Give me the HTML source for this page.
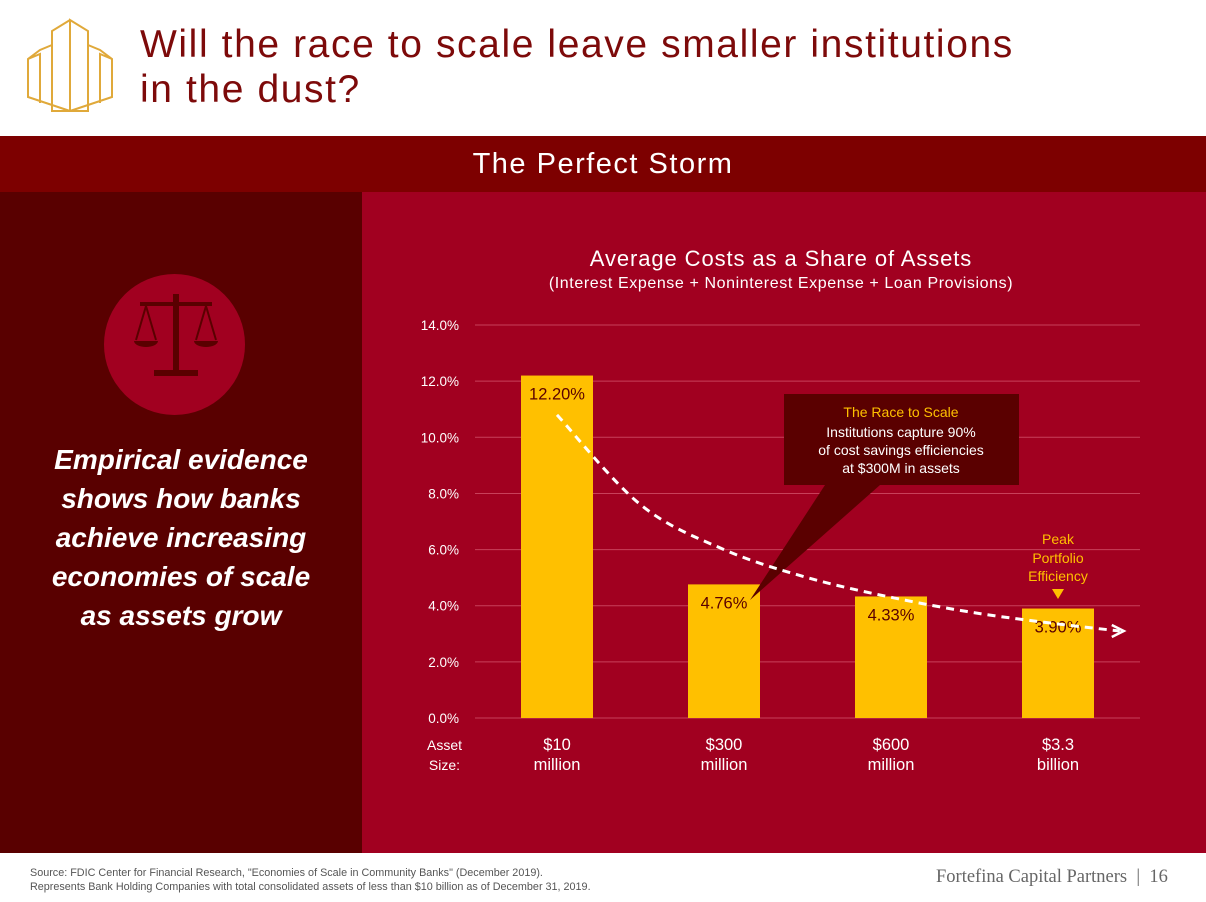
<!DOCTYPE html>
<html><head><meta charset="utf-8"><style>
body{margin:0;width:1206px;height:902px;position:relative;overflow:hidden;font-family:"Liberation Sans",sans-serif;background:#fff}
div{position:absolute}
</style></head><body>
<div style="left:0;top:0;width:1206px;height:136px;background:#fff">
<svg style="position:absolute;left:26px;top:17px" width="90" height="97" viewBox="0 0 90 97"><g fill="none" stroke="#e0a93a" stroke-width="2"><path d="M44 3 L62 14 L62 94 L44 94 Z M44 3 L26 14 L26 94 L44 94"/><path d="M26 28 L14 33 L2 42 L2 80 L44 94 M2 42 L14 37 L14 86"/><path d="M62 28 L74 33 L86 42 L86 80 L44 94 M86 42 L74 37 L74 86"/><path d="M44 3 V94"/></g></svg>
<div style="left:140px;top:22px;font-size:39px;letter-spacing:1.6px;line-height:45px;color:#7d0a0a">Will the race to scale leave smaller institutions<br>in the dust?</div>
</div>
<div style="left:0;top:136px;width:1206px;height:56px;background:#7d0000;color:#fff;font-size:29px;letter-spacing:1.5px;text-align:center;line-height:56px">The Perfect Storm</div>
<div style="left:0;top:192px;width:362px;height:661px;background:#590000">
<div style="left:104px;top:82px;width:141px;height:141px;border-radius:50%;background:#a10020">
<svg width="141" height="141" viewBox="0 0 141 141"><g fill="#5a0000"><rect x="69" y="20" width="6" height="78"/><rect x="36" y="28" width="72" height="4"/><rect x="50" y="96" width="44" height="6"/><path d="M30 67 h24 a12 6 0 0 1 -24 0Z M90 67 h24 a12 6 0 0 1 -24 0Z"/></g><g stroke="#5a0000" stroke-width="2" fill="none"><path d="M42 32 L32 66 M42 32 L52 66 M102 32 L92 66 M102 32 L112 66"/></g></svg></div>
<div style="left:0;top:248px;width:362px;text-align:center;color:#fff;font-style:italic;font-weight:bold;font-size:28px;line-height:39px">Empirical evidence<br>shows how banks<br>achieve increasing<br>economies of scale<br>as assets grow</div>
</div>
<div style="left:362px;top:192px;width:844px;height:661px;background:#a10020"></div>
<svg id="chart" style="position:absolute;left:0;top:0" width="1206" height="902"></svg>
<div style="left:30px;top:866px;font-size:10.8px;line-height:14px;color:#555">Source: FDIC Center for Financial Research, "Economies of Scale in Community Banks" (December 2019).<br>Represents Bank Holding Companies with total consolidated assets of less than $10 billion as of December 31, 2019.</div>
<div style="left:936px;top:867px;font-family:'Liberation Serif',serif;font-size:18.5px;color:#666">Fortefina Capital Partners &nbsp;|&nbsp; 16</div>
<script>
const categories=["$10|million","$300|million","$600|million","$3.3|billion"];
const values=[12.20,4.76,4.33,3.90];
const valueLabels=["12.20%","4.76%","4.33%","3.90%"];
const yTicks=[0,2,4,6,8,10,12,14];
const curvePos=[0,0.5,1,1.5,2,2.5,3,3.37];
const curveValues=[10.8,7.6,6.0,5.0,4.3,3.75,3.35,3.1];
const svg=document.getElementById('chart');const NS='http://www.w3.org/2000/svg';
function y(v){return 718-v*28.07}
function x(i){return 557+i*167}
function add(t,a,txt){const e=document.createElementNS(NS,t);for(const k in a)e.setAttribute(k,a[k]);if(txt!=null)e.textContent=txt;svg.appendChild(e);return e}
let e;
e=add('text',{x:781,y:266,'text-anchor':'middle',fill:'#fff','font-size':22,'letter-spacing':0.9},'Average Costs as a Share of Assets');


e=add('text',{x:781,y:288,'text-anchor':'middle',fill:'#fff','font-size':16,'letter-spacing':0.6},'(Interest Expense + Noninterest Expense + Loan Provisions)');


yTicks.forEach(t=>{
e=add('line',{x1:475,x2:1140,y1:y(t),y2:y(t),stroke:'#c8405a','stroke-width':1});


e=add('text',{x:459,y:y(t)+5,'text-anchor':'end',fill:'#fff','font-size':13.5},t.toFixed(1)+'%');


});
values.forEach((v,i)=>{
e=add('rect',{x:x(i)-36,y:y(v),width:72,height:y(0)-y(v),fill:'#ffc000'});


const c=categories[i].split('|');
e=add('text',{x:x(i),y:750,'text-anchor':'middle',fill:'#fff','font-size':16.5},c[0]);


e=add('text',{x:x(i),y:770,'text-anchor':'middle',fill:'#fff','font-size':16.5},c[1]);


});
e=add('text',{x:462,y:750,'text-anchor':'end',fill:'#fff','font-size':14},'Asset');


e=add('text',{x:460,y:770,'text-anchor':'end',fill:'#fff','font-size':14},'Size:');


values.forEach((v,i)=>{
e=add('text',{x:x(i),y:y(v)+24,'text-anchor':'middle',fill:'#5a0000','font-size':16.5},valueLabels[i]);


});
// callout
e=add('path',{d:'M784 394 H1019 V485 H880 L750 600 L825 485 H784 Z',fill:'#5a0000'});


[['The Race to Scale','#ffc000',417],['Institutions capture 90%','#fff',437],['of cost savings efficiencies','#fff',455],['at $300M in assets','#fff',473]].forEach(r=>{
e=add('text',{x:901,y:r[2],'text-anchor':'middle',fill:r[1],'font-size':14},r[0]);


});
// curve
let pts=curveValues.map((v,i)=>[x(curvePos[i]),y(v)]);
let d='M'+pts[0][0]+' '+pts[0][1];
for(let i=0;i<pts.length-1;i++){const p0=pts[Math.max(0,i-1)],p1=pts[i],p2=pts[i+1],p3=pts[Math.min(pts.length-1,i+2)];
d+=' C'+(p1[0]+(p2[0]-p0[0])/6)+' '+(p1[1]+(p2[1]-p0[1])/6)+' '+(p2[0]-(p3[0]-p1[0])/6)+' '+(p2[1]-(p3[1]-p1[1])/6)+' '+p2[0]+' '+p2[1];}
e=add('path',{d:d,fill:'none',stroke:'#fff','stroke-width':3,'stroke-dasharray':'8 6'});


const last=pts[pts.length-1];
e=add('path',{d:`M${last[0]-8} ${last[1]-6} L${last[0]+4} ${last[1]} L${last[0]-8} ${last[1]+6}`,fill:'none',stroke:'#fff','stroke-width':2.5});


[['Peak',544],['Portfolio',563],['Efficiency',581]].forEach(r=>{
e=add('text',{x:1058,y:r[1],'text-anchor':'middle',fill:'#ffc000','font-size':14},r[0]);


});
e=add('path',{d:'M1052 589 H1064 L1058 599 Z',fill:'#ffc000'});


</script>
</body></html>
